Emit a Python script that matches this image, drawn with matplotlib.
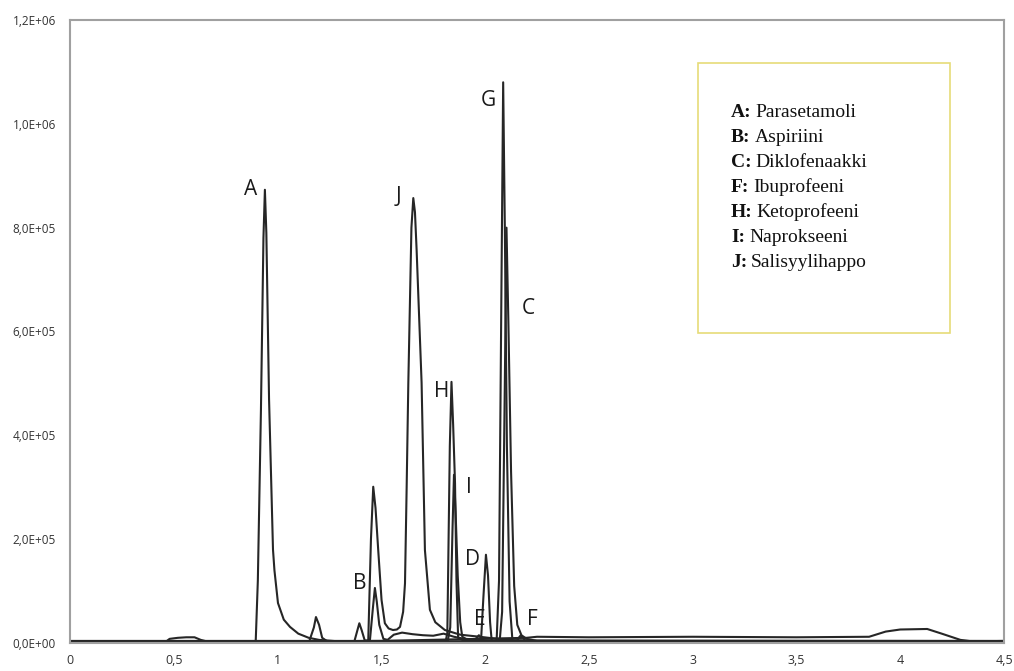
import numpy as np
import matplotlib
matplotlib.use("Agg")
import matplotlib.pyplot as plt

# retention time (min) and signal (x1000 counts)
t_a = [0, 0.50, 0.89, 0.895, 0.905, 0.92, 0.932, 0.939, 0.946, 0.959, 0.978, 0.985, 1.002, 1.03, 1.06, 1.10, 1.15, 1.20, 1.30, 4.5]
y_a = [2, 2, 2, 6, 120, 450, 780, 873, 790, 470, 180, 140, 77, 45, 31, 18, 10, 6, 3, 2]

t_b = [0, 1.15, 1.175, 1.185, 1.20, 1.215, 1.24, 1.37, 1.385, 1.394, 1.405, 1.42, 1.445, 1.46, 1.469, 1.478, 1.49, 1.51, 1.53,
       1.56, 1.60, 1.65, 1.70, 1.75, 1.80, 1.85, 1.90, 1.95, 2.0, 2.1, 4.5]
y_b = [0, 0, 30, 50, 35, 10, 3, 3, 25, 38, 25, 5, 5, 70, 106, 80, 35, 8, 6,
       16, 20, 17, 15, 14, 18, 12, 8, 7, 5, 3, 1]

t_j = [0, 1.43, 1.437, 1.45, 1.461, 1.472, 1.485, 1.501, 1.517, 1.535, 1.556, 1.575, 1.59, 1.605, 1.614, 1.622, 1.63, 1.645, 1.654,
       1.662, 1.67, 1.694, 1.71, 1.734, 1.76, 1.806, 1.88, 1.975, 2.1, 2.3, 4.5]
y_j = [1, 1, 5, 200, 301, 260, 179, 83, 38, 28, 25, 26, 31, 60, 115, 300, 500, 800, 857,
       830, 757, 501, 179, 64, 40, 25, 16, 12, 6, 3, 2]

t_h = [0, 1.81, 1.818, 1.83, 1.838, 1.846, 1.855, 1.862, 1.87, 1.90, 4.5]
y_h = [3, 3, 20, 380, 503, 420, 308, 120, 10, 4, 3]

t_i = [0, 1.82, 1.832, 1.843, 1.850, 1.858, 1.868, 1.88, 1.89, 1.92, 4.5]
y_i = [4, 4, 30, 220, 324, 250, 130, 40, 12, 5, 4]

t_d = [0, 1.980, 1.992, 2.004, 2.014, 2.024, 2.032, 4.5]
y_d = [2, 2, 90, 170, 130, 40, 3, 2]

t_e = [0, 1.94, 1.955, 1.97, 1.985, 2.0, 4.5]
y_e = [1, 1, 8, 15, 8, 1, 1]

t_g = [0, 2.055, 2.067, 2.079, 2.087, 2.095, 2.105, 2.118, 2.132, 4.5]
y_g = [0, 0, 120, 700, 1080, 800, 380, 80, 3, 1]

t_c = [0, 2.07, 2.082, 2.095, 2.103, 2.112, 2.125, 2.14, 2.155, 2.175, 2.20, 2.25, 4.5]
y_c = [3, 3, 60, 500, 800, 620, 330, 110, 35, 15, 8, 4, 3]

t_f = [0, 2.15, 2.162, 2.172, 2.182, 2.195, 4.5]
y_f = [2, 2, 10, 15, 11, 3, 2]

t_n = [0, 0.46, 0.48, 0.52, 0.56, 0.60, 0.63, 0.66, 1.0, 1.5, 2.2, 2.25, 2.5, 3.0, 3.5, 3.85, 3.93, 4.0, 4.13, 4.2, 4.29, 4.35, 4.5]
y_n = [2, 2, 8, 10, 11, 11, 6, 3, 3, 4, 10, 12, 11, 12, 11, 12, 22, 26, 27, 18, 6, 3, 4]

traces = [(t_a, y_a), (t_b, y_b), (t_j, y_j), (t_h, y_h), (t_i, y_i), (t_d, y_d),
          (t_e, y_e), (t_g, y_g), (t_c, y_c), (t_f, y_f), (t_n, y_n)]

peak_labels = ["A", "J", "G", "C", "H", "I", "D", "B", "E", "F"]
peak_label_t = [0.87, 1.58, 2.015, 2.21, 1.79, 1.92, 1.94, 1.395, 1.975, 2.23]
peak_label_y = [874, 860, 1045, 645, 485, 300, 160, 115, 45, 45]

legend_keys = ["A:", "B:", "C:", "F:", "H:", "I:", "J:"]
legend_names = ["Parasetamoli", "Aspiriini", "Diklofenaakki", "Ibuprofeeni",
                "Ketoprofeeni", "Naprokseeni", "Salisyylihappo"]

x_ticks = [0, 0.5, 1, 1.5, 2, 2.5, 3, 3.5, 4, 4.5]
x_tick_labels = ["0", "0,5", "1", "1,5", "2", "2,5", "3", "3,5", "4", "4,5"]
y_ticks = [0, 2e5, 4e5, 6e5, 8e5, 1e6, 1.2e6]
y_tick_labels = ["0,0E+00", "2,0E+05", "4,0E+05", "6,0E+05", "8,0E+05", "1,0E+06", "1,2E+06"]

fig = plt.figure(figsize=(10.14, 6.71), dpi=100)
ax = fig.add_axes([70 / 1014, 28 / 671, 934 / 1014, 623 / 671])

for t, y in traces:
    ax.plot(t, np.array(y) * 1000, color="#262626", lw=1.5, solid_joinstyle="round")

ax.set_xlim(0, 4.5)
ax.set_ylim(0, 1.2e6)
ax.set_xticks(x_ticks)
ax.set_xticklabels(x_tick_labels, fontsize=9, color="#333333", family="Open Sans")
ax.set_yticks(y_ticks)
ax.set_yticklabels(y_tick_labels, fontsize=8.5, color="#333333", family="Open Sans")
ax.tick_params(axis="y", length=0, pad=10)
ax.tick_params(axis="x", length=0, pad=8)
for side in ["left", "top", "right", "bottom"]:
    ax.spines[side].set_color("#a0a0a0")
    ax.spines[side].set_linewidth(1.5)

for lab, lt, ly in zip(peak_labels, peak_label_t, peak_label_y):
    ax.text(lt, ly * 1000, lab, fontsize=15, color="#1a1a1a", family="Open Sans",
            ha="center", va="center")

# legend box drawn as a rectangle with text lines
box = plt.Rectangle((698 / 1014, 1 - 333 / 671), 252 / 1014, 270 / 671,
                    transform=fig.transFigure, facecolor="white", edgecolor="#e6dc78",
                    lw=1.2, clip_on=False, zorder=5)
ax.add_patch(box)
fig.canvas.draw()
renderer = fig.canvas.get_renderer()
for k, (key, name) in enumerate(zip(legend_keys, legend_names)):
    yy = 1 - (117 + 25 * k) / 671
    kt = ax.text(731 / 1014, yy, key, fontsize=14, fontweight="bold", transform=fig.transFigure,
                 family="Liberation Serif", va="baseline", color="#111111", zorder=6)
    x_end = kt.get_window_extent(renderer).x1
    ax.text((x_end + 4) / 1014, yy, name, transform=fig.transFigure, va="baseline", ha="left",
            zorder=6, fontsize=14, family="Liberation Serif", color="#111111")

fig.savefig("out.png", dpi=100)
